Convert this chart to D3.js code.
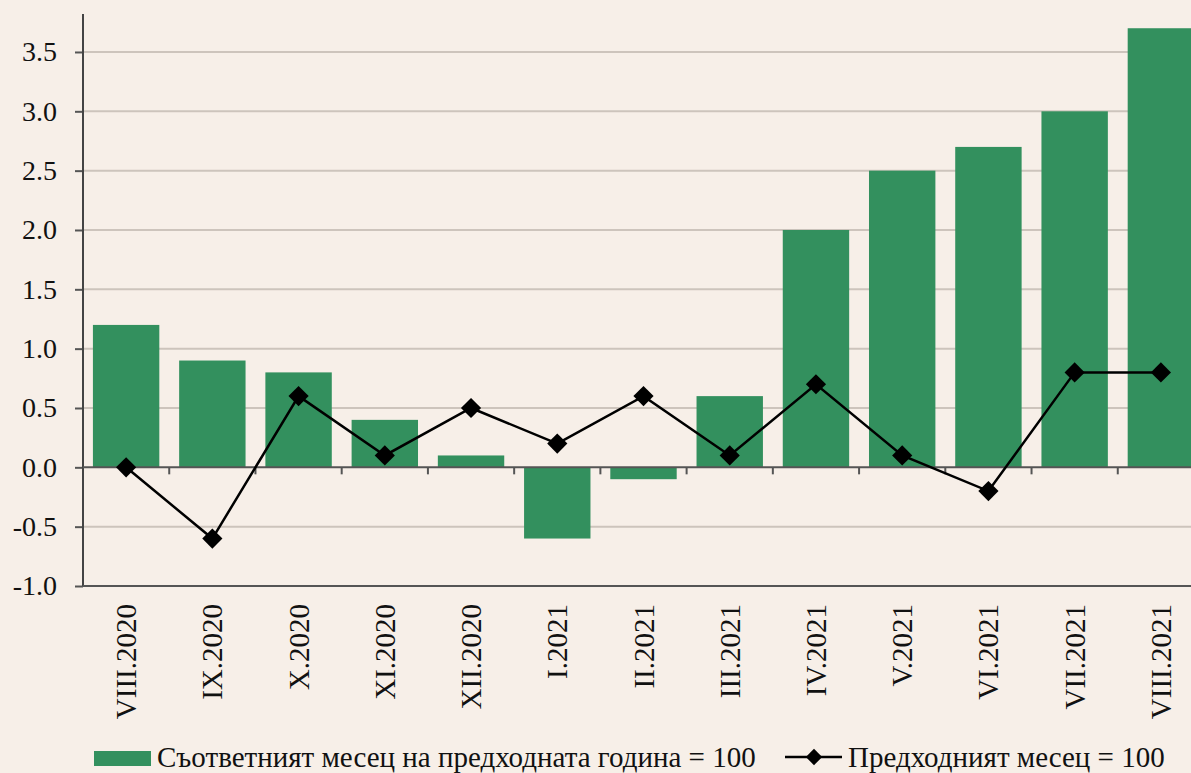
<!DOCTYPE html>
<html>
<head>
<meta charset="utf-8">
<script src="https://cdn.jsdelivr.net/npm/d3@7"></script>
<style>
  html, body { margin: 0; padding: 0; background: #f7efe8; overflow: hidden; }
  svg { display: block; font-family: "Liberation Serif", "Times New Roman", serif; }
</style>
</head>
<body>
<div class="chart"></div>
<script>
const months = ['VIII.2020', 'IX.2020', 'X.2020', 'XI.2020', 'XII.2020', 'I.2021', 'II.2021',
                'III.2021', 'IV.2021', 'V.2021', 'VI.2021', 'VII.2021', 'VIII.2021']
const yearAgo = [1.2, 0.9, 0.8, 0.4, 0.1, -0.6, -0.1, 0.6, 2.0, 2.5, 2.7, 3.0, 3.7]
const prevMonth = [0.0, -0.6, 0.6, 0.1, 0.5, 0.2, 0.6, 0.1, 0.7, 0.1, -0.2, 0.8, 0.8]
const yTicks = [-1.0, -0.5, 0.0, 0.5, 1.0, 1.5, 2.0, 2.5, 3.0, 3.5]
const legendBar = 'Съответният месец на предходната година = 100'
const legendLine = 'Предходният месец = 100'

const W = 1191, H = 773
const plot = {left: 83, right: 1204, top: 14, bottom: 586}

const svg = d3.select('.chart').append('svg')
    .attr('width', W)
    .attr('height', H)

let x = d3.scaleBand()
    .domain(months)
    .range([plot.left, plot.right])
    .paddingInner(0.23)
    .paddingOuter(0.115)

let xb = d3.scaleBand()   // whole bands, for the tick marks between categories
    .domain(months)
    .range([plot.left, plot.right])

let y = d3.scaleLinear()
    .domain([-1, 3.82])
    .range([plot.bottom, plot.top])

// gridlines
svg.append('g')
    .selectAll('line')
    .data(yTicks.filter(d => d !== -1 && d !== 0))
    .join('line')
    .attr('x1', plot.left)
    .attr('x2', W)
    .attr('y1', d => y(d))
    .attr('y2', d => y(d))
    .attr('stroke', '#cdc4bc')
    .attr('stroke-width', 2)

// bars
svg.append('g')
    .selectAll('rect')
    .data(yearAgo)
    .join('rect')
    .attr('x', (d, i) => x(months[i]))
    .attr('width', x.bandwidth())
    .attr('y', d => y(Math.max(0, d)))
    .attr('height', d => Math.abs(y(d) - y(0)))
    .attr('fill', '#33905e')

// y axis
const fmt = d3.format('.1f')
const yAxis = d3.axisLeft(y)
    .tickValues(yTicks)
    .tickSize(8)
    .tickPadding(18)
    .tickFormat(d => fmt(d).replace('−', '-'))

svg.append('g')
    .attr('transform', `translate(${plot.left},0)`)
    .call(yAxis)
    .attr('font-family', null)
    .call(g => g.select('.domain').remove())
    .call(g => g.selectAll('.tick line').attr('stroke', '#555').attr('stroke-width', 2))
    .call(g => g.selectAll('.tick text').attr('font-size', 28).attr('fill', '#111'))

svg.append('line')
    .attr('x1', plot.left).attr('x2', plot.left)
    .attr('y1', plot.top).attr('y2', plot.bottom)
    .attr('stroke', '#444').attr('stroke-width', 2)

// bottom frame at -1.0
svg.append('line')
    .attr('x1', plot.left).attr('x2', W)
    .attr('y1', y(-1)).attr('y2', y(-1))
    .attr('stroke', '#555').attr('stroke-width', 2)

// zero line with ticks between categories
svg.append('line')
    .attr('x1', plot.left).attr('x2', W)
    .attr('y1', y(0)).attr('y2', y(0))
    .attr('stroke', '#555').attr('stroke-width', 2)

svg.append('g')
    .selectAll('line')
    .data(months.slice(1))
    .join('line')
    .attr('x1', d => xb(d)).attr('x2', d => xb(d))
    .attr('y1', y(0)).attr('y2', y(0) + 7)
    .attr('stroke', '#555').attr('stroke-width', 2)

// category labels
svg.append('g')
    .selectAll('text')
    .data(months)
    .join('text')
    .attr('transform', d => `translate(${x(d) + x.bandwidth() / 2 + 10},604) rotate(-90)`)
    .attr('text-anchor', 'end')
    .attr('font-size', 29)
    .attr('fill', '#111')
    .text(d => d)

// line series
const cx = (d, i) => x(months[i]) + x.bandwidth() / 2

const line = d3.line()
    .x(cx)
    .y(d => y(d))

svg.append('path')
    .datum(prevMonth)
    .attr('d', line)
    .attr('fill', 'none')
    .attr('stroke', '#000')
    .attr('stroke-width', 2.5)

const diamond = d3.symbol().type(d3.symbolDiamond2).size(260)

svg.append('g')
    .selectAll('path')
    .data(prevMonth)
    .join('path')
    .attr('transform', (d, i) => `translate(${cx(d, i)},${y(d)})`)
    .attr('d', diamond)
    .attr('fill', '#000')

// legend
const lg = svg.append('g').attr('font-size', 29).attr('fill', '#111')

lg.append('rect')
    .attr('x', 94).attr('y', 751)
    .attr('width', 57).attr('height', 15)
    .attr('fill', '#33905e')

lg.append('text')
    .attr('x', 157).attr('y', 767)
    .text(legendBar)

lg.append('line')
    .attr('x1', 785).attr('x2', 842)
    .attr('y1', 757).attr('y2', 757)
    .attr('stroke', '#000').attr('stroke-width', 2.5)

lg.append('path')
    .attr('transform', 'translate(814,757)')
    .attr('d', d3.symbol().type(d3.symbolDiamond2).size(170))
    .attr('fill', '#000')

lg.append('text')
    .attr('x', 848).attr('y', 767)
    .text(legendLine)
</script>
</body>
</html>
